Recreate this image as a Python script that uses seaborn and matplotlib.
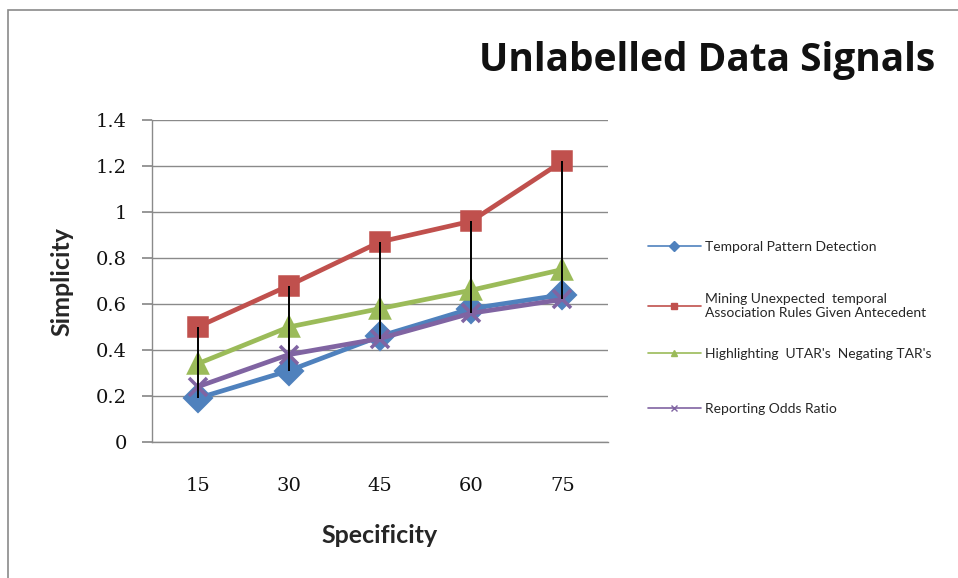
import numpy as np
import pandas as pd
import seaborn as sns
import matplotlib
matplotlib.use("Agg")
import matplotlib.pyplot as plt
from matplotlib.lines import Line2D
from matplotlib.patches import Rectangle

# ---- data ----
specificity = ["15", "30", "45", "60", "75"]
series_names = [
    "Temporal Pattern Detection",
    "Mining Unexpected  temporal\nAssociation Rules Given Antecedent",
    "Highlighting  UTAR's  Negating TAR's",
    "Reporting Odds Ratio",
]
temporal_pattern = [0.19, 0.31, 0.46, 0.58, 0.64]
mining_unexpected = [0.50, 0.68, 0.87, 0.96, 1.22]
highlighting_utar = [0.34, 0.50, 0.58, 0.66, 0.75]
reporting_odds = [0.24, 0.38, 0.45, 0.56, 0.62]
y_ticks = [0, 0.2, 0.4, 0.6, 0.8, 1, 1.2, 1.4]
y_tick_labels = ["0", "0.2", "0.4", "0.6", "0.8", "1", "1.2", "1.4"]

colors = ["#4F81BD", "#C0504D", "#9BBB59", "#8064A2"]
markers = ["D", "s", "^", "x"]

all_vals = [temporal_pattern, mining_unexpected, highlighting_utar, reporting_odds]
df = pd.DataFrame({
    "Specificity": specificity * 4,
    "Simplicity": np.concatenate(all_vals),
    "Series": np.repeat(series_names, len(specificity)),
})

sns.set_theme(style="white")
plt.rcParams["font.family"] = ["Lato", "DejaVu Sans"]

fig = plt.figure(figsize=(9.58, 5.78), dpi=100)
ax = fig.add_axes([152 / 958, 1 - 442 / 578, 456 / 958, 322 / 578])

sns.pointplot(
    data=df, x="Specificity", y="Simplicity", hue="Series",
    order=specificity, hue_order=series_names, palette=colors,
    markers=markers, linestyles="-", errorbar=None, dodge=False,
    markersize=13, linewidth=3.4, ax=ax, legend=False,
)

# high-low lines
arr = np.array(all_vals)
ax.vlines(range(len(specificity)), arr.min(axis=0), arr.max(axis=0),
          colors="black", linewidth=1.4, zorder=10)

ax.set_xlim(-0.5, len(specificity) - 0.5)
ax.set_ylim(0, 1.4)
ax.set_yticks(y_ticks)
ax.set_yticklabels(y_tick_labels)
ax.grid(axis="y", color="#8a8a8a", linewidth=1)
ax.set_axisbelow(True)
for s in ["top", "right"]:
    ax.spines[s].set_visible(False)
for s in ["left", "bottom"]:
    ax.spines[s].set_color("#8a8a8a")
    ax.spines[s].set_linewidth(1)
ax.tick_params(axis="y", which="both", left=True, length=7, color="#8a8a8a",
               direction="out", pad=11)
ax.tick_params(axis="x", bottom=False, pad=19)
for lab in ax.get_xticklabels() + ax.get_yticklabels():
    lab.set_fontfamily("DejaVu Serif")
    lab.set_fontsize(14)
    lab.set_color("#111111")

ax.set_xlabel("Specificity", fontsize=18, fontweight="bold", labelpad=21)
ax.set_ylabel("Simplicity", fontsize=18, fontweight="bold", labelpad=16)

fig.text(707 / 958, 1 - 60 / 578, "Unlabelled Data Signals", fontsize=28,
         fontweight="bold", ha="center", va="center", color="#111111",
         family=["Open Sans", "DejaVu Sans"])

# legend entries, one per row, positioned like the reference
legend_y = [247, 306, 354, 409]
for name, c, m, yy in zip(series_names, colors, markers, legend_y):
    h = Line2D([0], [0], color=c, marker=m, markersize=5, linewidth=1.2,
               markeredgecolor=c)
    fig.legend([h], [name], loc="center left",
               bbox_to_anchor=(645 / 958, 1 - yy / 578), frameon=False,
               fontsize=10, handlelength=3.8, handletextpad=0.3,
               borderaxespad=0, borderpad=0.2)

fig.patches.append(Rectangle((8 / 958, -0.05), 1.2, 1.05 - 10 / 578,
                             transform=fig.transFigure, fill=False,
                             edgecolor="#8a8a8a", linewidth=1.2))

fig.savefig("out.png", dpi=100)
